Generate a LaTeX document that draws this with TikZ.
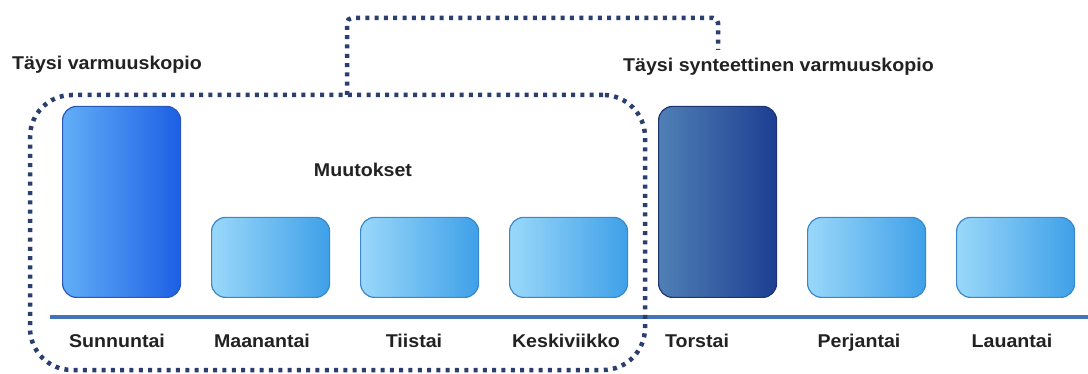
\documentclass[tikz,border=0pt]{standalone}
\usepackage{fontspec}
\setmainfont{Liberation Sans}[FakeStretch=1.06]
\begin{document}
\begin{tikzpicture}[x=1pt,y=-1pt]
\definecolor{navy}{HTML}{2B3F6E}
\definecolor{axisblue}{HTML}{4272B8}
\definecolor{txt}{HTML}{222222}
% full backup
\definecolor{fullL}{HTML}{62AEF7}
\definecolor{fullM}{HTML}{4A8CEE}
\definecolor{fullR}{HTML}{1D5FE4}
\definecolor{fullB}{HTML}{2A58B8}
% incremental backups
\definecolor{incL}{HTML}{9AD8FA}
\definecolor{incM}{HTML}{7CC5F3}
\definecolor{incR}{HTML}{3FA0E8}
\definecolor{incB}{HTML}{3A88C8}
% synthetic full backup
\definecolor{synL}{HTML}{4F80B5}
\definecolor{synM}{HTML}{3767A6}
\definecolor{synR}{HTML}{1D3E92}
\definecolor{synB}{HTML}{1E3470}
\tikzset{
  daybox/.style={line width=1.2pt, rounded corners=14pt,
    minimum width=118pt, inner sep=0pt, anchor=south west},
  dayfull/.style={daybox, draw=fullB, minimum height=191pt,
    left color=fullL, middle color=fullM, right color=fullR},
  dayinc/.style={daybox, draw=incB, minimum height=80pt,
    left color=incL, middle color=incM, right color=incR},
  daysynth/.style={daybox, draw=synB, minimum height=191pt,
    left color=synL, middle color=synM, right color=synR},
  daylabel/.style={font=\bfseries\fontsize{18.5}{20}\selectfont, text=txt,
    inner sep=0pt, anchor=base},
  toplabel/.style={font=\bfseries\fontsize{18.5}{20}\selectfont, text=txt,
    inner sep=0pt, anchor=base},
  dots/.style={draw=navy, line width=4.5pt, dash pattern=on 4pt off 5.3pt}
}
\useasboundingbox (0,0) rectangle (1088,374);
\fill[white] (0,0) rectangle (1088,374);

% time axis
\coordinate (axisL) at (50,317);
\coordinate (axisR) at (1088,317);
\draw[axisblue, line width=4pt] (axisL) -- (axisR);

% backups per day
\node[dayfull]  (sun) at (62,298)  {};
\node[dayinc]   (mon) at (211,298) {};
\node[dayinc]   (tue) at (360,298) {};
\node[dayinc]   (wed) at (509,298) {};
\node[daysynth] (thu) at (658,298) {};
\node[dayinc]   (fri) at (807,298) {};
\node[dayinc]   (sat) at (956,298) {};

% day names
\node[daylabel] (lsun) at (117,348)  {Sunnuntai};
\node[daylabel] (lmon) at (262,348)  {Maanantai};
\node[daylabel] (ltue) at (414,348)  {Tiistai};
\node[daylabel] (lwed) at (566,348)  {Keskiviikko};
\node[daylabel] (lthu) at (697,348)  {Torstai};
\node[daylabel] (lfri) at (859,348)  {Perjantai};
\node[daylabel] (lsat) at (1012,348) {Lauantai};

% titles
\node[toplabel, anchor=base west] (tfull)  at (12,70)  {Täysi varmuuskopio};
\node[toplabel, anchor=base west] (tsynth) at (623,72) {Täysi synteettinen varmuuskopio};
\node[toplabel] (tchg) at (363,177) {Muutokset};

% group of backups merged into the synthetic full
\node[dots, rounded corners=42pt, minimum width=615pt, minimum height=275pt,
      inner sep=0pt] (grp) at (337.5,232.5) {};
\coordinate (g1) at (347,95);
\coordinate (g2) at (347,18);
\coordinate (g3) at (718,18);
\coordinate (g4) at (718,50);
\draw[dots, rounded corners=5pt] (g1) -- (g2) -- (g3) -- (g4);
\end{tikzpicture}
\end{document}
